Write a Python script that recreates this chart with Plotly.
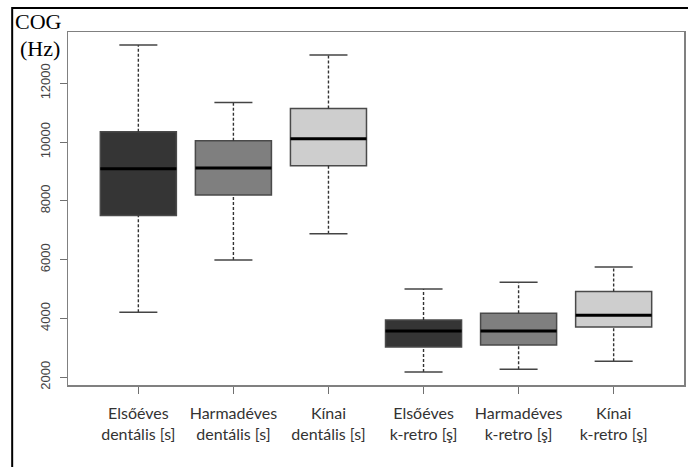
import plotly.graph_objects as go

categories = ["Elsőéves<br>dentális [s]", "Harmadéves<br>dentális [s]", "Kínai<br>dentális [s]",
              "Elsőéves<br>k-retro [ş]", "Harmadéves<br>k-retro [ş]", "Kínai<br>k-retro [ş]"]
positions = [1, 2, 3, 4, 5, 6]
lower = [4210, 5990, 6880, 2180, 2270, 2545]
q1 = [7500, 8200, 9190, 3030, 3100, 3705]
median = [9090, 9120, 10110, 3575, 3570, 4110]
q3 = [10350, 10040, 11140, 3950, 4180, 4915]
upper = [13300, 11345, 12960, 5000, 5235, 5750]
fills = ["#353535", "#7f7f7f", "#cecece", "#353535", "#7f7f7f", "#cecece"]
yticks = [2000, 4000, 6000, 8000, 10000, 12000]

BW = 0.8
CAP = 0.4

fig = go.Figure()

wx, wy = [], []
for p, lo, a, b, hi in zip(positions, lower, q1, q3, upper):
    wx += [p, p, None, p, p, None]
    wy += [lo, a, None, b, hi, None]
fig.add_trace(go.Scatter(x=wx, y=wy, mode="lines", line=dict(color="#333333", width=1.4, dash="3px,2px"),
                         hoverinfo="skip", showlegend=False))
cx, cy = [], []
for p, lo, hi in zip(positions, lower, upper):
    cx += [p - CAP / 2, p + CAP / 2, None, p - CAP / 2, p + CAP / 2, None]
    cy += [lo, lo, None, hi, hi, None]
fig.add_trace(go.Scatter(x=cx, y=cy, mode="lines", line=dict(color="#444444", width=1.5),
                         hoverinfo="skip", showlegend=False))

for p, a, m, b, c in zip(positions, q1, median, q3, fills):
    fig.add_trace(go.Box(x=[p], q1=[a], median=[m], q3=[b], lowerfence=[a], upperfence=[b],
                         width=BW, fillcolor=c, line=dict(color="#4a4a4a", width=1.5),
                         boxpoints=False, hoverinfo="skip", showlegend=False))

mx, my = [], []
for p, m in zip(positions, median):
    mx += [p - BW / 2, p + BW / 2, None]
    my += [m, m, None]
fig.add_trace(go.Scatter(x=mx, y=my, mode="lines", line=dict(color="#000000", width=3),
                         hoverinfo="skip", showlegend=False))

L, R, T, B = 68, 5, 32, 83
W, H = 691, 468
pw, ph = W - L - R, H - T - B

bx = (12 - L) / pw
by_top = (H - B - 8) / ph
by_bot = -(B - 1) / ph
bx_right = (W - L - 1) / pw

fig.update_layout(
    width=W, height=H,
    margin=dict(l=L, r=R, t=T, b=B, pad=0),
    paper_bgcolor="white", plot_bgcolor="white",
    showlegend=False,
    xaxis=dict(range=[0.26, 6.74], tickmode="array", tickvals=positions, ticktext=categories,
               showgrid=False, zeroline=False, showline=True, mirror=True,
               linecolor="#808080", linewidth=1.5, ticks="outside", ticklen=7,
               tickcolor="#707070", tickwidth=1, ticklabelstandoff=6,
               tickfont=dict(family="Lato", size=16, color="#333333")),
    yaxis=dict(range=[1736, 13743], tickmode="array", tickvals=yticks,
               ticktext=[str(v) for v in yticks], tickangle=-90,
               showgrid=False, zeroline=False, showline=True, mirror=True,
               linecolor="#808080", linewidth=1.5, ticks="outside", ticklen=7,
               tickcolor="#707070", tickwidth=1, ticklabelstandoff=4,
               tickfont=dict(family="Liberation Sans", size=13, color="#444444")),
    shapes=[
        dict(type="path", xref="paper", yref="paper",
             path=f"M {bx},{by_bot} L {bx},{by_top} L {bx_right},{by_top}",
             line=dict(color="black", width=2), fillcolor="rgba(0,0,0,0)"),
    ],
    annotations=[
        dict(text="COG", xref="paper", yref="paper", x=(13 - L) / pw, y=(H - B - 21) / ph,
             xanchor="left", yanchor="middle", showarrow=False,
             font=dict(family="Liberation Serif", size=22, color="black")),
        dict(text="(Hz)", xref="paper", yref="paper", x=(18 - L) / pw, y=(H - B - 49) / ph,
             xanchor="left", yanchor="middle", showarrow=False,
             font=dict(family="Liberation Serif", size=22, color="black")),
    ],
)

fig.write_html("out.html", config={"displayModeBar": False, "staticPlot": True},
               post_script="document.body.style.margin='0';document.body.style.overflow='hidden';"
                           "document.documentElement.style.overflow='hidden';")
